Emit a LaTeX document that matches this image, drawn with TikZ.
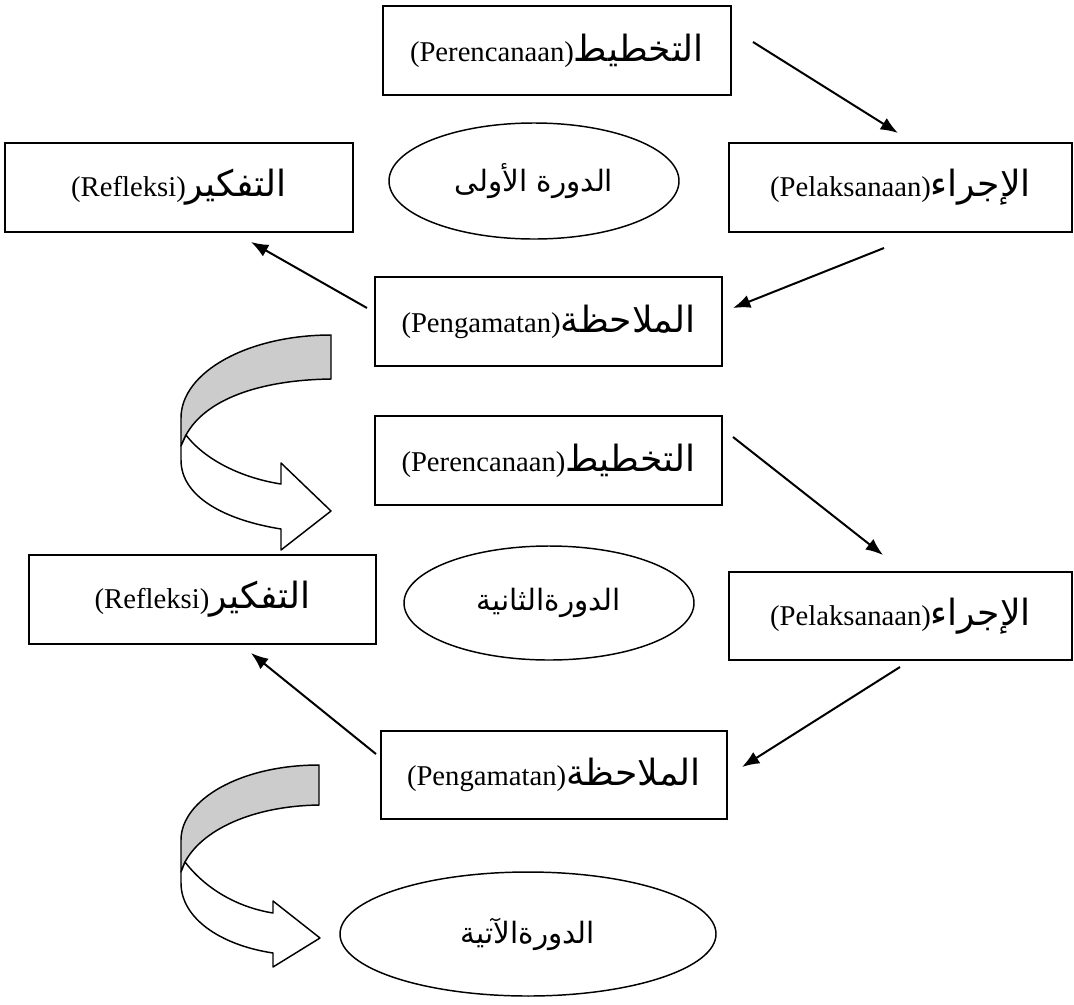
\documentclass[tikz,border=0pt]{standalone}
\usepackage{fontspec}
\setmainfont{Liberation Serif}
\newfontfamily\arabicfont[Script=Arabic,Scale=1.26]{DejaVu Sans}
\TeXXeTstate=1
\usetikzlibrary{shapes.geometric,arrows.meta}
\definecolor{bandgray}{RGB}{204,204,204}
\newcommand{\artxt}[1]{{\arabicfont\beginR #1\endR}}
\begin{document}
\begin{tikzpicture}[x=0.75pt,y=-0.75pt,
  box/.style={draw,line width=1.1pt,rectangle,inner sep=0pt,font=\fontsize{21.5}{26}\selectfont},
  oval/.style={draw,line width=1.1pt,ellipse,inner sep=0pt,font=\fontsize{17.5}{22}\selectfont},
  arr/.style={line width=1.5pt,-{Latex[length=13pt,width=10pt]}},
  band/.style={line width=1.1pt,line join=round}]
\useasboundingbox (0,0) rectangle (1074,1004);
% cycle 1
\node[box,minimum width=261pt,minimum height=66.75pt] (p1) at (557,50.5) {(Perencanaan)\artxt{التخطيط}};
\node[box,minimum width=261pt,minimum height=66.75pt] (r1) at (179,187.5) {(Refleksi)\artxt{التفكير}};
\node[box,minimum width=257.25pt,minimum height=66.75pt] (e1) at (900.5,187.5) {(Pelaksanaan)\artxt{الإجراء}};
\node[box,minimum width=260.25pt,minimum height=66.75pt] (o1) at (548.5,321.5) {(Pengamatan)\artxt{الملاحظة}};
\node[oval,minimum width=217.5pt,minimum height=87pt] (c1) at (534,181) {\artxt{الدورة الأولى}};
% cycle 2
\node[box,minimum width=260.25pt,minimum height=66.75pt] (p2) at (548.5,460.5) {(Perencanaan)\artxt{التخطيط}};
\node[box,minimum width=260.25pt,minimum height=66.75pt] (r2) at (202.5,599.5) {(Refleksi)\artxt{التفكير}};
\node[box,minimum width=257.25pt,minimum height=66pt] (e2) at (900.5,616) {(Pelaksanaan)\artxt{الإجراء}};
\node[box,minimum width=259.5pt,minimum height=66pt] (o2) at (554,775) {(Pengamatan)\artxt{الملاحظة}};
\node[oval,minimum width=217.5pt,minimum height=85.5pt] (c2) at (549,603) {\artxt{الدورةالثانية}};
\node[oval,minimum width=282pt,minimum height=93pt] (c3) at (528,934) {\artxt{الدورةالآتية}};
% connector ends
\coordinate (a1s) at (753,42);  \coordinate (a1e) at (898,133);
\coordinate (a2s) at (884,248); \coordinate (a2e) at (733,308);
\coordinate (a3s) at (367,308); \coordinate (a3e) at (251,242);
\coordinate (a4s) at (733,437); \coordinate (a4e) at (883,555);
\coordinate (a5s) at (900,667); \coordinate (a5e) at (742,767);
\coordinate (a6s) at (376,754); \coordinate (a6e) at (251,653);
\draw[arr] (a1s) -- (a1e);
\draw[arr] (a2s) -- (a2e);
\draw[arr] (a3s) -- (a3e);
\draw[arr] (a4s) -- (a4e);
\draw[arr] (a5s) -- (a5e);
\draw[arr] (a6s) -- (a6e);
% curved arrow 1
\filldraw[band,fill=bandgray] (331,335) .. controls (248,335) and (181,372) .. (181,418) -- (181,446) -- (186,435) .. controls (205,400) and (258,380) .. (331,379) -- cycle;
\filldraw[band,fill=white] (186,435) .. controls (205,460) and (242,478) .. (281,484) -- (281,463) -- (331,511) -- (281,550) -- (281,529) .. controls (225,520) and (181,497) .. (181,460) -- (181,446) -- cycle;
% curved arrow 2
\filldraw[band,fill=bandgray] (319,765) .. controls (240,765) and (181,800) .. (181,840) -- (181,872) -- (185,862) .. controls (202,830) and (252,806) .. (319,805) -- cycle;
\filldraw[band,fill=white] (185,862) .. controls (205,888) and (236,907) .. (273,913) -- (273,901) -- (320,938) -- (273,967) -- (273,953) .. controls (220,945) and (181,918) .. (181,883) -- (181,872) -- cycle;
\end{tikzpicture}
\end{document}
